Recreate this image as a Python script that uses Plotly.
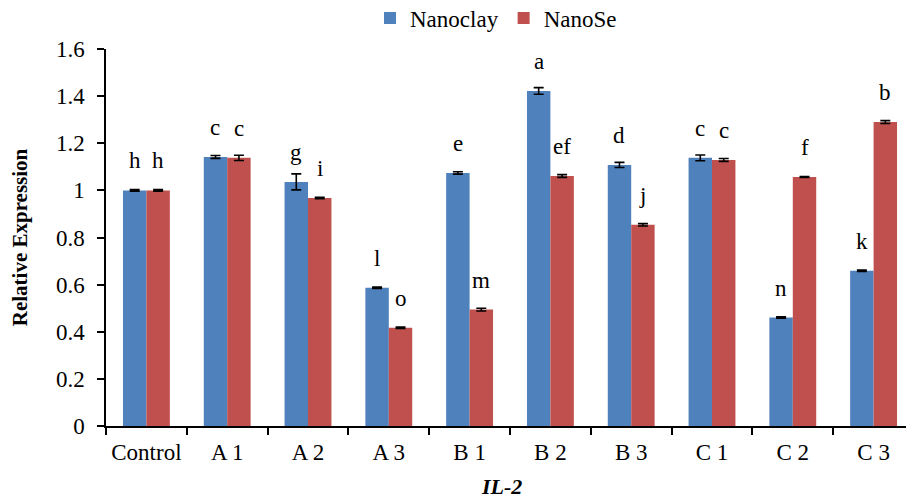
import plotly.graph_objects as go

categories = ["Control", "A 1", "A 2", "A 3", "B 1", "B 2", "B 3", "C 1", "C 2", "C 3"]
nanoclay = [1.000, 1.142, 1.036, 0.587, 1.074, 1.422, 1.108, 1.138, 0.460, 0.659]
nanoclay_err = [0.003, 0.006, 0.034, 0.003, 0.005, 0.014, 0.011, 0.012, 0.003, 0.003]
nanose = [1.000, 1.138, 0.968, 0.417, 0.494, 1.061, 0.854, 1.129, 1.057, 1.290]
nanose_err = [0.003, 0.011, 0.003, 0.003, 0.006, 0.006, 0.005, 0.006, 0.002, 0.006]
nanoclay_letters = ["h", "c", "g", "l", "e", "a", "d", "c", "n", "k"]
nanose_letters = ["h", "c", "i", "o", "m", "ef", "j", "c", "f", "b"]

FONT = "Liberation Serif, Times New Roman, serif"
BLUE = "#4F81BD"
RED = "#C0504D"
BARGAP = 0.42
# the page body adds an 8px offset; figure sized so it ends at the window edge
OFF = 8
W, H = 914 - OFF, 502 - OFF
L, T = 106 - OFF, 49 - OFF
AXIS_Y = 426.5 - OFF
B = H - AXIS_Y
PW, PH = W - L, H - T - B

fig = go.Figure()
fig.add_trace(go.Bar(
    name="Nanoclay", x=categories, y=nanoclay, marker_color=BLUE, marker_line_width=0,
    error_y=dict(type="data", array=nanoclay_err, color="black", thickness=1.6, width=5),
))
fig.add_trace(go.Bar(
    name="NanoSe", x=categories, y=nanose, marker_color=RED, marker_line_width=0,
    error_y=dict(type="data", array=nanose_err, color="black", thickness=1.6, width=5),
))

off = (1 - BARGAP) / 4
annotations = []
for i in range(len(categories)):
    annotations.append(dict(x=i - off, y=nanoclay[i], text=nanoclay_letters[i], showarrow=False,
                            xref="x", yref="y", yanchor="bottom", yshift=15,
                            font=dict(family=FONT, size=23, color="black")))
    annotations.append(dict(x=i + off, y=nanose[i], text=nanose_letters[i], showarrow=False,
                            xref="x", yref="y", yanchor="bottom", yshift=15,
                            font=dict(family=FONT, size=23, color="black")))
annotations.append(dict(x=(501 - OFF - L) / PW, y=-(487 - 426.5) / PH, xref="paper", yref="paper",
                        text="<b><i>IL-2</i></b>", showarrow=False, yanchor="middle",
                        font=dict(family=FONT, size=22, color="black")))

fig.update_layout(
    width=W, height=H,
    margin=dict(l=L, r=0, t=T, b=B, autoexpand=False),
    paper_bgcolor="white", plot_bgcolor="white",
    barmode="group", bargap=BARGAP, bargroupgap=0,
    font=dict(family=FONT, size=23, color="black"),
    legend=dict(orientation="h", x=(496 - OFF - L) / PW, y=1 + (T - 10) / PH,
                xanchor="center", yanchor="middle", font=dict(family=FONT, size=23),
                itemwidth=30, tracegroupgap=0),
    xaxis=dict(showline=True, linecolor="black", linewidth=1.5, ticks="outside", ticklen=7,
               tickwidth=1.5, tickcolor="black", tickson="boundaries", showgrid=False,
               automargin=False, range=[-0.5, 9.5], ticklabelstandoff=5,
               tickfont=dict(family=FONT, size=23)),
    yaxis=dict(range=[0, 1.6], dtick=0.2, tickformat="~g", showline=True, linecolor="black",
               linewidth=1.5, ticks="outside", ticklen=7, tickwidth=1.5, tickcolor="black",
               showgrid=False, zeroline=False, automargin=False, ticklabelstandoff=8,
               tickfont=dict(family=FONT, size=23),
               title=dict(text="<b>Relative Expression</b>", font=dict(family=FONT, size=21), standoff=24)),
    annotations=annotations,
)
fig.write_html("out.html")
